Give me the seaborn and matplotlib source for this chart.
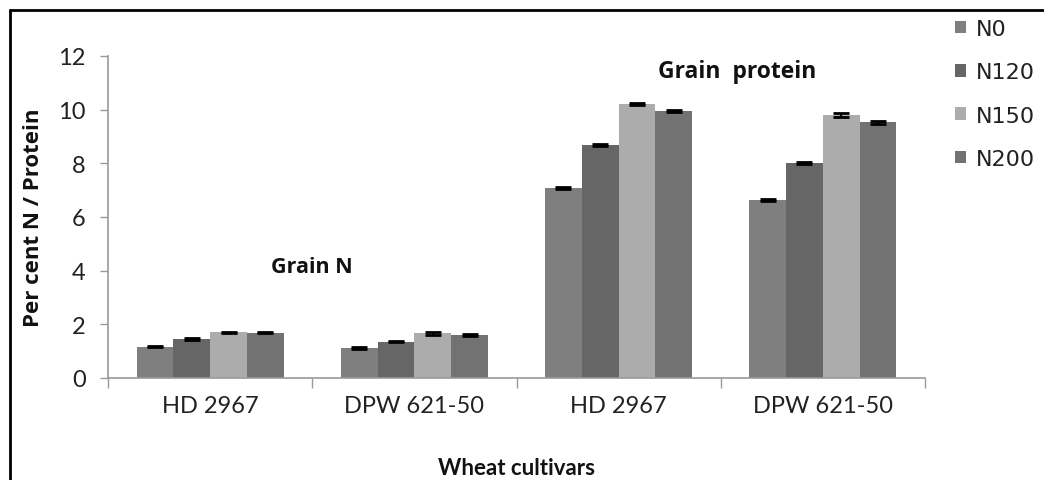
import numpy as np
import pandas as pd
import matplotlib
matplotlib.use("Agg")
import matplotlib.pyplot as plt
import seaborn as sns
from matplotlib.lines import Line2D

# ---- data ----
groups = ["HD 2967 ", "DPW 621-50 ", "HD 2967", "DPW 621-50"]
tick_labels = ["HD 2967", "DPW 621-50", "HD 2967", "DPW 621-50"]
treatments = ["N0", "N120", "N150", "N200"]
n0 = [1.17, 1.12, 7.08, 6.63]
n120 = [1.46, 1.35, 8.68, 8.00]
n150 = [1.71, 1.66, 10.22, 9.80]
n200 = [1.69, 1.61, 9.96, 9.53]
err_n0 = [0.03, 0.03, 0.03, 0.03]
err_n120 = [0.03, 0.02, 0.03, 0.04]
err_n150 = [0.02, 0.04, 0.03, 0.06]
err_n200 = [0.02, 0.03, 0.03, 0.05]
colors = ["#7f7f7f", "#666666", "#acacac", "#727272"]

values = [n0, n120, n150, n200]
errors = [err_n0, err_n120, err_n150, err_n200]
df = pd.DataFrame({
    "group": [g for _ in treatments for g in groups],
    "treatment": [t for t in treatments for _ in groups],
    "value": [v for vals in values for v in vals],
})

sns.set_theme(style="white")
plt.rcParams["font.family"] = ["Lato", "DejaVu Sans"]

fig = plt.figure(figsize=(10.44, 4.81), dpi=100)
ax = fig.add_axes([108/1044, 1-379/481, (925-108)/1044, (379-57)/481])

sns.barplot(data=df, x="group", y="value", hue="treatment", order=groups,
            hue_order=treatments, palette=colors, width=0.72, errorbar=None,
            saturation=1, ax=ax, legend=True, linewidth=0)

for cont, errs in zip(ax.containers, errors):
    xs = [p.get_x() + p.get_width()/2 for p in cont]
    hs = [p.get_height() for p in cont]
    ax.errorbar(xs, hs, yerr=errs, fmt="none", ecolor="black", elinewidth=1.5,
                capsize=5.5, capthick=2, zorder=5)

ax.set_ylim(0, 12)
ax.set_xlim(-0.5, 3.5)
ax.set_yticks(np.arange(0, 13, 2))
ax.set_yticklabels([str(v) for v in range(0, 13, 2)], fontsize=17, color="#222222")
ax.set_xticks([-0.5, 0.5, 1.5, 2.5, 3.5])
ax.set_xticklabels([])
ax.set_xticks(range(4), minor=True)
ax.set_xticklabels(tick_labels, minor=True, fontsize=17, color="#222222")
ax.tick_params(axis="x", which="major", length=7, width=1, color="#999999", direction="out", bottom=True)
ax.tick_params(axis="x", which="minor", length=0, pad=12)
ax.tick_params(axis="y", length=6, width=1, color="#999999", direction="out", left=True, pad=10)

for s in ["top", "right"]:
    ax.spines[s].set_visible(False)
for s in ["left", "bottom"]:
    ax.spines[s].set_color("#999999")
    ax.spines[s].set_linewidth(1.2)

ax.set_xlabel("Wheat cultivars", fontsize=16, fontweight="bold", labelpad=30,
              color="#111111")
ax.set_ylabel("Per cent N / Protein", fontsize=16, fontweight="bold",
              family="Open Sans", labelpad=10, color="#111111")

ax.text(0.5, 4.15, "Grain N", fontsize=15.5, fontweight="bold", ha="center",
        va="center", family="Open Sans", color="#111111")
ax.text(2.58, 11.45, "Grain  protein", fontsize=16.5, fontweight="bold", ha="center",
        va="center", family="Open Sans", color="#111111")

leg = ax.legend(loc="upper left", bbox_to_anchor=(955/1044, 1-20/481),
                bbox_transform=fig.transFigure, frameon=False,
                prop={"family": "DejaVu Sans", "size": 16},
                handlelength=0.5, handleheight=0.5, handletextpad=0.45,
                labelspacing=1.05, borderaxespad=0, borderpad=0)
for t in leg.get_texts():
    t.set_color("#222222")

fig.add_artist(Line2D([10/1044, 1], [1-11/481, 1-11/481], color="black", lw=2))
fig.add_artist(Line2D([10/1044, 10/1044], [0, 1-11/481], color="black", lw=2))

fig.savefig("out.png", dpi=100)
